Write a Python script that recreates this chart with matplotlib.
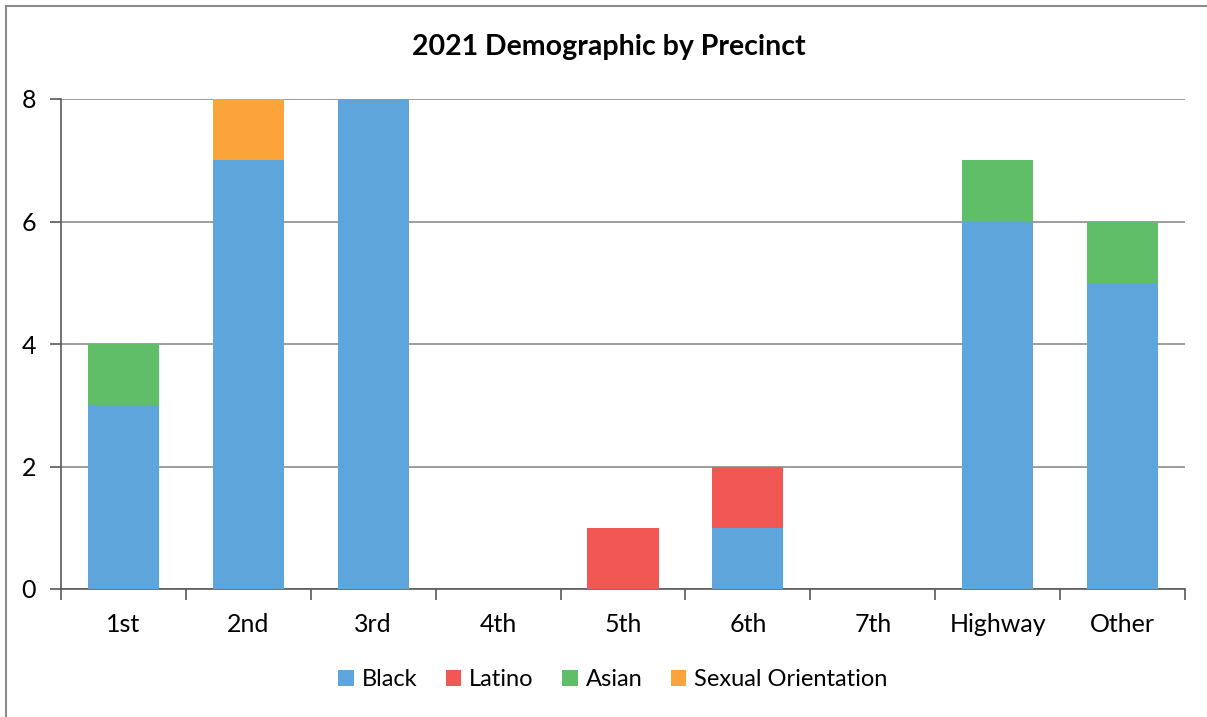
import numpy as np
import matplotlib.pyplot as plt
from matplotlib.lines import Line2D

plt.rcParams['font.family'] = ['Lato', 'DejaVu Sans']

precincts = ["1st", "2nd", "3rd", "4th", "5th", "6th", "7th", "Highway", "Other"]
black = [3, 7, 8, 0, 0, 1, 0, 6, 5]
latino = [0, 0, 0, 0, 1, 1, 0, 0, 0]
asian = [1, 0, 0, 0, 0, 0, 0, 1, 1]
sexual_orientation = [0, 1, 0, 0, 0, 0, 0, 0, 0]

series = [
    ("Black", black, "#5DA5DA"),
    ("Latino", latino, "#F15854"),
    ("Asian", asian, "#60BD68"),
    ("Sexual Orientation", sexual_orientation, "#FAA43A"),
]

fig = plt.figure(figsize=(12.07, 7.17), dpi=100)
ax = fig.add_axes([61 / 1207, 1 - 589 / 717, (1185 - 61) / 1207, (589 - 99) / 717])

# outer chart border (left and top visible only)
fig.add_artist(Line2D([6 / 1207, 6 / 1207], [0, 1 - 6 / 717], color="#8c8c8c", lw=1.5))
fig.add_artist(Line2D([6 / 1207, 1], [1 - 6 / 717, 1 - 6 / 717], color="#8c8c8c", lw=1.5))

x = np.arange(len(precincts))
bottom = np.zeros(len(precincts))
for name, vals, color in series:
    vals = np.array(vals, dtype=float)
    ax.bar(x, vals, width=0.57, bottom=bottom, color=color, label=name, zorder=3)
    bottom += vals

ax.set_xlim(-0.5, len(precincts) - 0.5)
ax.set_ylim(0, 8)
ax.set_yticks([0, 2, 4, 6, 8])
ax.yaxis.grid(True, color="#8c8c8c", lw=1.2, zorder=0)
ax.set_axisbelow(True)

ax.set_xticks(np.arange(len(precincts) + 1) - 0.5)
ax.set_xticklabels([])
ax.set_xticks(x, minor=True)
ax.set_xticklabels(precincts, minor=True, fontsize=18)
ax.tick_params(axis="x", which="major", length=8, width=1.2, color="#595959")
ax.tick_params(axis="x", which="minor", length=0, pad=17)
ax.tick_params(axis="y", length=8, width=1.2, color="#595959", labelsize=18, pad=10)

for side in ["top", "right"]:
    ax.spines[side].set_visible(False)
ax.spines["left"].set_color("#595959")
ax.spines["left"].set_linewidth(1.2)
ax.spines["bottom"].set_color("#595959")
ax.spines["bottom"].set_linewidth(1.2)

fig.text(609 / 1207, 1 - 47 / 717, "2021 Demographic by Precinct", ha="center", va="center",
         fontsize=20.5, fontweight="bold")

fig.legend(loc="center", bbox_to_anchor=(613 / 1207, 1 - 680 / 717), ncol=4, frameon=False,
           fontsize=17, handlelength=0.65, handleheight=0.65, handletextpad=0.35, columnspacing=1.2)

fig.savefig("out.png", dpi=100, facecolor="white")
